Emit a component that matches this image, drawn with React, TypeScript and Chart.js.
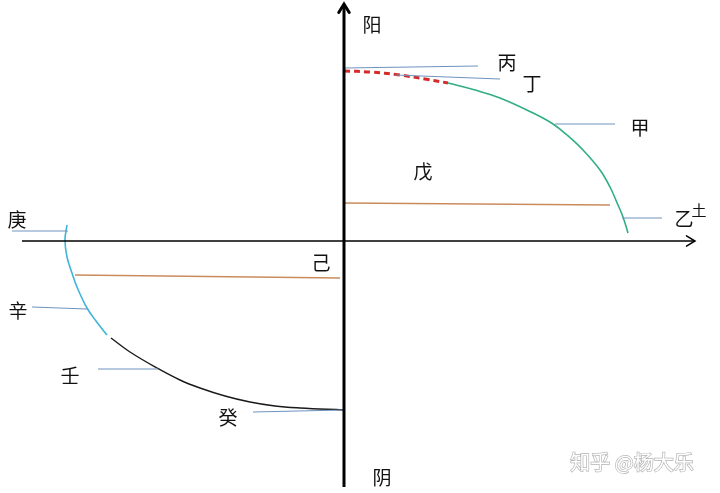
import React, { useEffect, useRef } from "react";
import { Chart, registerables } from "chart.js";

Chart.register(...registerables);

// diagram units: origin at the crossing of the two axes, y pointing up
const xAxisLine = [
  { x: -322, y: 0 },
  { x: 351, y: 0 },
];
const yAxisLine = [
  { x: 0, y: -246 },
  { x: 0, y: 237 },
];

// upper curve (阳): red dashed head, green body
const yangDashed = [
  { x: 0, y: 170 },
  { x: 26, y: 169 },
  { x: 56, y: 166 },
  { x: 81, y: 162 },
  { x: 104, y: 158 },
];
const yangCurve = [
  { x: 104, y: 158 },
  { x: 131, y: 151 },
  { x: 156, y: 143 },
  { x: 189, y: 128 },
  { x: 209, y: 117 },
  { x: 223, y: 106 },
  { x: 239, y: 91 },
  { x: 256, y: 71 },
  { x: 266, y: 54 },
  { x: 274, y: 36 },
  { x: 279, y: 24 },
  { x: 284, y: 8 },
];

// lower curve (阴): cyan head, black body
const yinCyan = [
  { x: -277, y: 16 },
  { x: -279, y: 1 },
  { x: -277, y: -16 },
  { x: -272, y: -32 },
  { x: -267, y: -46 },
  { x: -257, y: -67 },
  { x: -248, y: -80 },
  { x: -237, y: -94 },
];
const yinCurve = [
  { x: -233, y: -97 },
  { x: -214, y: -111 },
  { x: -187, y: -127 },
  { x: -164, y: -139 },
  { x: -144, y: -147 },
  { x: -119, y: -155 },
  { x: -94, y: -161 },
  { x: -69, y: -165 },
  { x: -44, y: -167 },
  { x: -1, y: -169 },
];

// pointer lines from the stems to the curves
const pointerLines = [
  [{ x: 1, y: 173 }, { x: 134, y: 175 }], // 丙
  [{ x: 51, y: 166 }, { x: 156, y: 162 }], // 丁
  [{ x: 211, y: 117 }, { x: 271, y: 117 }], // 甲
  [{ x: 278, y: 23 }, { x: 318, y: 23 }], // 乙
  [{ x: -332, y: 10 }, { x: -276, y: 10 }], // 庚
  [{ x: -312, y: -66 }, { x: -257, y: -68 }], // 辛
  [{ x: -246, y: -128 }, { x: -186, y: -128 }], // 壬
  [{ x: -91, y: -171 }, { x: -1, y: -169 }], // 癸
];

// earth lines (戊, 己)
const earthLines = [
  [{ x: 0, y: 38 }, { x: 266, y: 36 }],
  [{ x: -269, y: -34 }, { x: -4, y: -37 }],
];

const labelTexts = ["阳", "丙", "丁", "甲", "戊", "乙", "庚", "己", "辛", "壬", "癸", "阴"];
const labelX = [28, 163, 188, 296, 79, 340, -327, -23, -326, -274, -116, 38];
const labelY = [216, 178, 157, 113, 69, 22, 21, -22, -70, -135, -177, -237];
const supText = "土";
const supPos = { x: 355, y: 31 };
const watermark = "知乎 @杨大乐";
const watermarkPos = { x: 288, y: -221 };

const CJK = '"Noto Sans CJK SC", "Noto Sans", sans-serif';

const line = (data: { x: number; y: number }[], color: string, width: number, extra: any = {}) => ({
  data,
  showLine: true,
  pointRadius: 0,
  borderColor: color,
  backgroundColor: color,
  borderWidth: width,
  tension: 0.4,
  clip: false as any,
  ...extra,
});

const arrowPlugin = {
  id: "arrowHeads",
  afterDatasetsDraw(chart: any) {
    const { ctx } = chart;
    const xs = chart.scales.x;
    const ys = chart.scales.y;
    const heads = [
      { pts: xAxisLine, w: 1.5 },
      { pts: yAxisLine, w: 3 },
    ];
    heads.forEach(({ pts, w }) => {
      const a = pts[pts.length - 2];
      const b = pts[pts.length - 1];
      const ax = xs.getPixelForValue(a.x);
      const ay = ys.getPixelForValue(a.y);
      const bx = xs.getPixelForValue(b.x);
      const by = ys.getPixelForValue(b.y);
      const ang = Math.atan2(by - ay, bx - ax);
      const len = 10;
      ctx.save();
      ctx.strokeStyle = "#000";
      ctx.lineWidth = w;
      ctx.lineCap = "round";
      ctx.beginPath();
      ctx.moveTo(bx - len * Math.cos(ang - 0.55), by - len * Math.sin(ang - 0.55));
      ctx.lineTo(bx, by);
      ctx.lineTo(bx - len * Math.cos(ang + 0.55), by - len * Math.sin(ang + 0.55));
      ctx.stroke();
      ctx.restore();
    });
  },
};

const labelPlugin = {
  id: "labels",
  afterDatasetsDraw(chart: any) {
    const { ctx } = chart;
    const xs = chart.scales.x;
    const ys = chart.scales.y;
    ctx.save();
    ctx.textAlign = "center";
    ctx.textBaseline = "middle";
    ctx.fillStyle = "#111";
    ctx.font = `19px ${CJK}`;
    labelTexts.forEach((t, i) => {
      ctx.fillText(t, xs.getPixelForValue(labelX[i]), ys.getPixelForValue(labelY[i]));
    });
    ctx.font = `15px ${CJK}`;
    ctx.fillText(supText, xs.getPixelForValue(supPos.x), ys.getPixelForValue(supPos.y));
    ctx.font = `20px ${CJK}`;
    ctx.fillStyle = "#fff";
    ctx.strokeStyle = "#b4b4b4";
    ctx.lineWidth = 1.4;
    const wx = xs.getPixelForValue(watermarkPos.x);
    const wy = ys.getPixelForValue(watermarkPos.y);
    ctx.strokeText(watermark, wx, wy);
    ctx.fillText(watermark, wx, wy);
    ctx.restore();
  },
};

const App: React.FC = () => {
  const canvasRef = useRef<HTMLCanvasElement | null>(null);

  useEffect(() => {
    if (!canvasRef.current) return;
    const datasets: any[] = [
      line(xAxisLine, "#000", 1.5, { tension: 0 }),
      line(yAxisLine, "#000", 3, { tension: 0 }),
      ...earthLines.map((l) => line(l, "#c98b5c", 1.5, { tension: 0 })),
      ...pointerLines.map((l) => line(l, "#6f93bd", 1.2, { tension: 0 })),
      line(yangCurve, "#2fae84", 1.6),
      line(yangDashed, "#d42a2a", 3, { borderDash: [6, 4] }),
      line(yinCyan, "#3fb4d8", 1.6),
      line(yinCurve, "#1a1a1a", 1.4),
    ];

    const chart = new Chart(canvasRef.current, {
      type: "scatter",
      data: { datasets },
      options: {
        animation: false,
        responsive: false,
        maintainAspectRatio: false,
        layout: { padding: 0 },
        plugins: { legend: { display: false }, tooltip: { enabled: false } },
        scales: {
          x: { type: "linear", min: -344, max: 376, display: false },
          y: { type: "linear", min: -252, max: 241, display: false },
        },
      },
      plugins: [arrowPlugin, labelPlugin],
    });

    return () => {
      chart.destroy();
    };
  }, []);

  return (
    <div style={{ position: "fixed", left: 0, top: 0, width: 720, height: 493, background: "#fff" }}>
      <canvas ref={canvasRef} width={720} height={493} />
    </div>
  );
};

export default App;
